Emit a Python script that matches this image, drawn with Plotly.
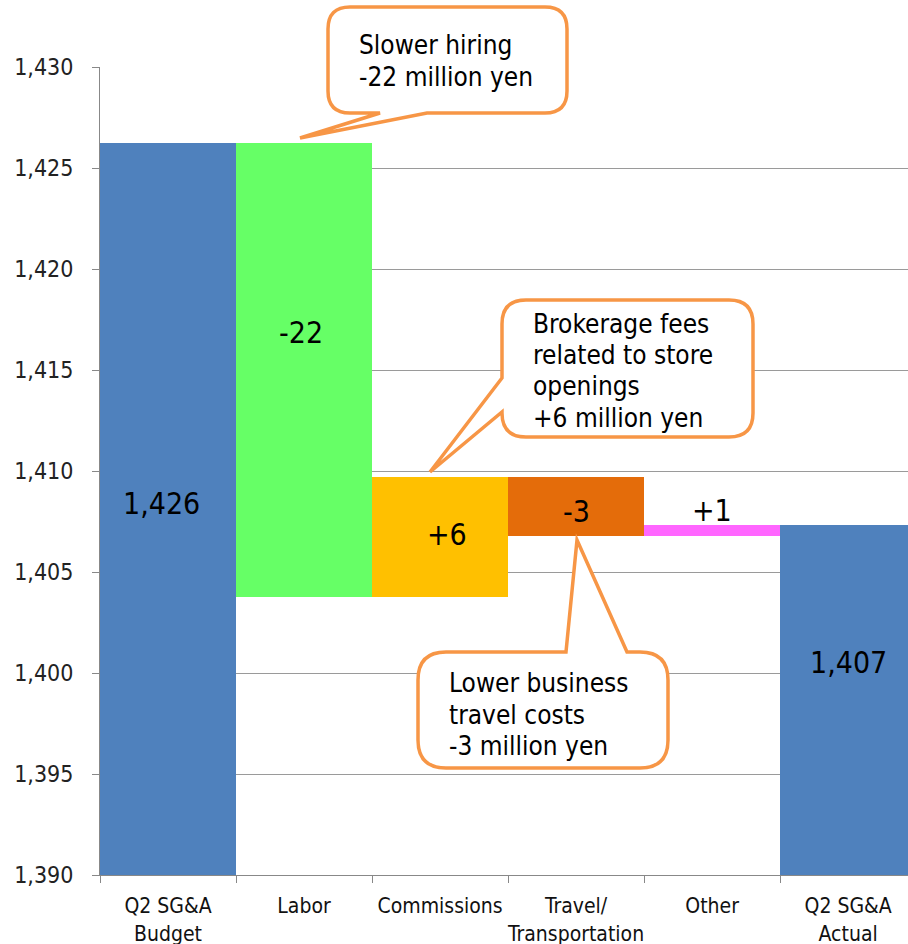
import plotly.graph_objects as go

# Q2 SG&A bridge: budget -> variance items -> actual (million yen)
categories = ["Q2 SG&A<br>Budget", "Labor", "Commissions",
              "Travel/<br>Transportation", "Other", "Q2 SG&A<br>Actual"]
budget = 1426.25
changes = [-22.47, 5.91, -2.91, 0.55]
actual = 1407.33
bar_colors = ["#4F81BD", "#66FF66", "#FFC000", "#E46C0A", "#FF66FF", "#4F81BD"]

# floating bars: each change starts where the previous one ended
bases, lengths = [0], [budget]
running = budget
for d in changes:
    bases.append(running)
    lengths.append(d)
    running += d
bases.append(0)
lengths.append(actual)

labels = [f"{budget:,.0f}"] + [f"{d:+.0f}" for d in changes] + [f"{actual:,.0f}"]

FONT = "DejaVu Sans Condensed, DejaVu Sans, sans-serif"
W, H = 908, 944
ML, MR, MT, MB = 100, 0, 67, 69
PW, PH = W - ML - MR, H - MT - MB


def px(x, y):
    """Pixel position -> paper coordinates."""
    return (x - ML) / PW, (H - MB - y) / PH


def bubble_path(x0, y0, x1, y1, r, tail, side):
    """Rounded speech bubble; tail = (base_a, tip, base_b) on the given side."""
    a, tip, b = tail
    pts = []
    pts.append(("M", [(x0 + r, y0)]))
    if side == "top":
        pts.append(("L", [(a, y0)]))
        pts.append(("L", [tip]))
        pts.append(("L", [(b, y0)]))
    pts.append(("L", [(x1 - r, y0)]))
    pts.append(("Q", [(x1, y0), (x1, y0 + r)]))
    pts.append(("L", [(x1, y1 - r)]))
    pts.append(("Q", [(x1, y1), (x1 - r, y1)]))
    if side == "bottom":
        pts.append(("L", [(a, y1)]))
        pts.append(("L", [tip]))
        pts.append(("L", [(b, y1)]))
    pts.append(("L", [(x0 + r, y1)]))
    pts.append(("Q", [(x0, y1), (x0, y1 - r)]))
    if side == "left":
        pts.append(("L", [(x0, a)]))
        pts.append(("L", [tip]))
        pts.append(("L", [(x0, b)]))
    pts.append(("L", [(x0, y0 + r)]))
    pts.append(("Q", [(x0, y0), (x0 + r, y0)]))
    out = []
    for cmd, ps in pts:
        coords = " ".join("{:.5f},{:.5f}".format(*px(x, y)) for x, y in ps)
        out.append(f"{cmd} {coords}")
    return " ".join(out) + " Z"


fig = go.Figure(go.Bar(
    x=categories, y=lengths, base=bases,
    marker=dict(color=bar_colors, line=dict(width=0)),
    hoverinfo="skip",
))

# value labels inside / above the bars
label_y = [1408.4, 1416.85, 1406.85, 1408.0, 1408.05, 1400.5]
label_dx = [-7, -3, 7, 0, 0, 0]
annotations = []
for i, (t, ly, dx) in enumerate(zip(labels, label_y, label_dx)):
    annotations.append(dict(x=i, y=ly, xref="x", yref="y", text=t, showarrow=False,
                            xshift=dx, font=dict(family=FONT, size=30, color="black")))

# callouts
callouts = [
    dict(box=(328, 7, 567, 113), r=22, side="bottom", tail=(427, (300, 138), 380),
         left=358, lines=[("Slower hiring", 45), ("-22 million yen", 77)]),
    dict(box=(502, 300, 753, 437), r=24, side="left", tail=(412, (430, 472), 378),
         left=532, lines=[("Brokerage fees", 324), ("related to store", 355),
                          ("openings", 386), ("+6 million yen", 418)]),
    dict(box=(418, 652, 668, 768), r=28, side="top", tail=(566, (577, 540), 627),
         left=448, lines=[("Lower business", 683), ("travel costs", 715),
                          ("-3 million yen", 746)]),
]
shapes = []
for c in callouts:
    x0, y0, x1, y1 = c["box"]
    shapes.append(dict(type="path", xref="paper", yref="paper", layer="above",
                       path=bubble_path(x0, y0, x1, y1, c["r"], c["tail"], c["side"]),
                       fillcolor="white", line=dict(color="#F79646", width=3.5)))
    for text, ly in c["lines"]:
        ax, ay = px(c["left"], ly)
        annotations.append(dict(x=ax, y=ay, xref="paper", yref="paper", text=text,
                                showarrow=False, xanchor="left", yanchor="middle",
                                align="left", borderpad=0,
                                font=dict(family=FONT, size=26, color="black")))

fig.update_layout(
    width=W, height=H,
    margin=dict(l=ML, r=MR, t=MT, b=MB, autoexpand=False),
    paper_bgcolor="white", plot_bgcolor="white",
    bargap=0, showlegend=False,
    font=dict(family=FONT, color="#222"),
    shapes=shapes, annotations=annotations,
    xaxis=dict(type="category", range=[-0.5, 5.44], tickson="boundaries",
               ticks="outside", ticklen=7, tickcolor="#888", showline=True,
               linecolor="#888", showgrid=False, tickangle=0, automargin=False,
               tickfont=dict(size=21, color="#111"), ticklabelstandoff=12,
               fixedrange=True),
    yaxis=dict(range=[1390, 1430], dtick=5, tickformat=",", showgrid=True,
               gridcolor="#9a9a9a", gridwidth=1, showline=True, linecolor="#888",
               ticks="outside", ticklen=7, tickcolor="#888", zeroline=False,
               automargin=False, tickfont=dict(size=23, color="#222"),
               ticklabelstandoff=14, fixedrange=True),
)

fig.write_html("out.html")
